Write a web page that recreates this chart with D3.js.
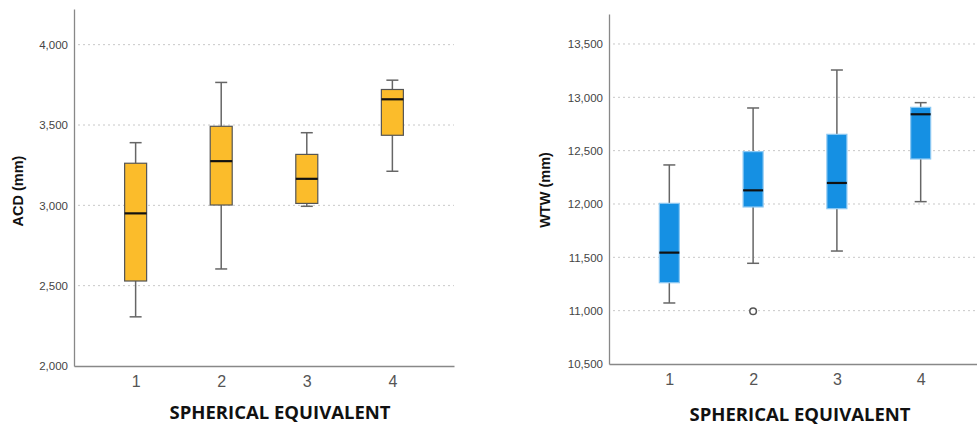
<!DOCTYPE html>
<html>
<head>
<meta charset="utf-8">
<script src="https://cdn.jsdelivr.net/npm/d3@7"></script>
<style>
  body { margin: 0; background: #fff; }
  svg { display: block; }
</style>
</head>
<body>
<div id="chart"></div>
<script>
// categories of spherical equivalent
const categories = ['1', '2', '3', '4'];

// ACD (mm) box stats per category
const acdLow    = [2306, 2604, 2994, 3212];
const acdQ1     = [2529, 3002, 3012, 3436];
const acdMedian = [2950, 3275, 3165, 3660];
const acdQ3     = [3262, 3492, 3317, 3721];
const acdHigh   = [3390, 3765, 3452, 3779];
const acdOutliers = [];
const acdTicks = [2000, 2500, 3000, 3500, 4000];

// WTW (mm) box stats per category
const wtwLow    = [11072, 11444, 11559, 12022];
const wtwQ1     = [11262, 11972, 11956, 12422];
const wtwMedian = [11544, 12128, 12197, 12841];
const wtwQ3     = [12006, 12491, 12653, 12906];
const wtwHigh   = [12366, 12900, 13256, 12950];
const wtwOutliers = [{cat: '2', value: 10994}];
const wtwTicks = [10500, 11000, 11500, 12000, 12500, 13000, 13500];

const fmt = d3.format(',');

const svg = d3.select('#chart').append('svg')
    .attr('width', 977)
    .attr('height', 425);

function drawPanel(opt) {
  const g = svg.append('g');

  const x = d3.scalePoint()
      .domain(categories)
      .range([opt.left, opt.right])
      .padding(opt.pad);

  const y = d3.scaleLinear()
      .domain(opt.domain)
      .range([opt.bottom, opt.top]);

  // gridlines
  g.selectAll('line.grid')
    .data(opt.ticks.slice(1))
    .join('line')
      .attr('class', 'grid')
      .attr('x1', opt.left + 4)
      .attr('x2', opt.right)
      .attr('y1', d => y(d))
      .attr('y2', d => y(d))
      .attr('stroke', '#c8c8c8')
      .attr('stroke-width', 1)
      .attr('stroke-dasharray', '2,3');

  // y axis
  const yAxis = d3.axisLeft(y).tickValues(opt.ticks).tickFormat(fmt).tickSize(0).tickPadding(6);
  const ya = g.append('g')
      .attr('transform', `translate(${opt.left},0)`)
      .call(yAxis);
  ya.select('.domain').attr('stroke', '#888').attr('stroke-width', 1.3);
  ya.selectAll('text')
      .attr('font-family', 'Liberation Sans, Arial, sans-serif')
      .attr('font-size', 11.5)
      .attr('fill', '#444');

  // x axis
  const xAxis = d3.axisBottom(x).tickSize(0).tickPadding(10);
  const xa = g.append('g')
      .attr('transform', `translate(0,${opt.bottom})`)
      .call(xAxis);
  xa.select('.domain').attr('stroke', '#888').attr('stroke-width', 1.3);
  xa.selectAll('text')
      .attr('font-family', 'Liberation Sans, Arial, sans-serif')
      .attr('font-size', 16)
      .attr('fill', '#555');

  const stats = categories.map((c, i) => ({
    cat: c,
    low: opt.low[i], q1: opt.q1[i], median: opt.median[i], q3: opt.q3[i], high: opt.high[i]
  }));

  const bw = opt.boxWidth;
  const cap = 12;

  const box = g.selectAll('g.box')
    .data(stats)
    .join('g')
      .attr('class', 'box');

  // whiskers
  box.append('line')
      .attr('x1', d => x(d.cat)).attr('x2', d => x(d.cat))
      .attr('y1', d => y(d.high)).attr('y2', d => y(d.q3))
      .attr('stroke', '#666').attr('stroke-width', 1.5);
  box.append('line')
      .attr('x1', d => x(d.cat)).attr('x2', d => x(d.cat))
      .attr('y1', d => y(d.q1)).attr('y2', d => y(d.low))
      .attr('stroke', '#666').attr('stroke-width', 1.5);
  box.append('line')
      .attr('x1', d => x(d.cat) - cap / 2).attr('x2', d => x(d.cat) + cap / 2)
      .attr('y1', d => y(d.high)).attr('y2', d => y(d.high))
      .attr('stroke', '#666').attr('stroke-width', 1.5);
  box.append('line')
      .attr('x1', d => x(d.cat) - cap / 2).attr('x2', d => x(d.cat) + cap / 2)
      .attr('y1', d => y(d.low)).attr('y2', d => y(d.low))
      .attr('stroke', '#666').attr('stroke-width', 1.5);

  // boxes
  box.append('rect')
      .attr('x', d => x(d.cat) - bw / 2)
      .attr('width', bw)
      .attr('y', d => y(d.q3))
      .attr('height', d => y(d.q1) - y(d.q3))
      .attr('fill', opt.fill)
      .attr('stroke', opt.stroke)
      .attr('stroke-width', 1.2);

  // medians
  box.append('line')
      .attr('x1', d => x(d.cat) - bw / 2).attr('x2', d => x(d.cat) + bw / 2)
      .attr('y1', d => y(d.median)).attr('y2', d => y(d.median))
      .attr('stroke', '#111').attr('stroke-width', 2.2);

  // outliers
  g.selectAll('circle.outlier')
    .data(opt.outliers)
    .join('circle')
      .attr('class', 'outlier')
      .attr('cx', d => x(d.cat))
      .attr('cy', d => y(d.value))
      .attr('r', 3.3)
      .attr('fill', '#fff')
      .attr('stroke', '#555')
      .attr('stroke-width', 1.5);

  // titles
  g.append('text')
      .attr('transform', `translate(${opt.yTitleX},${opt.yTitleY}) rotate(-90)`)
      .attr('text-anchor', 'middle')
      .attr('font-family', 'Liberation Sans, Arial, sans-serif')
      .attr('font-weight', 'bold')
      .attr('font-size', 14.5)
      .attr('fill', '#111')
      .text(opt.yTitle);

  g.append('text')
      .attr('x', opt.xTitleX)
      .attr('y', opt.xTitleY)
      .attr('text-anchor', 'middle')
      .attr('font-family', 'Open Sans, Noto Sans, sans-serif')
      .attr('font-weight', 'bold')
      .attr('font-size', 18.5)
      .attr('fill', '#111')
      .text('SPHERICAL EQUIVALENT');
}

drawPanel({
  left: 74, right: 454, top: 9, bottom: 366, pad: 0.72,
  domain: [2000, 4222],
  ticks: acdTicks,
  low: acdLow, q1: acdQ1, median: acdMedian, q3: acdQ3, high: acdHigh,
  outliers: acdOutliers,
  boxWidth: 22,
  fill: '#FBBC2B', stroke: '#555',
  yTitle: 'ACD (mm)', yTitleX: 23, yTitleY: 191,
  xTitleX: 280, xTitleY: 419
});

drawPanel({
  left: 609, right: 981, top: 14, bottom: 364, pad: 0.72,
  domain: [10500, 13781],
  ticks: wtwTicks,
  low: wtwLow, q1: wtwQ1, median: wtwMedian, q3: wtwQ3, high: wtwHigh,
  outliers: wtwOutliers,
  boxWidth: 20,
  fill: '#1590E3', stroke: '#8cc8f2',
  yTitle: 'WTW (mm)', yTitleX: 550, yTitleY: 190,
  xTitleX: 800, xTitleY: 421
});
</script>
</body>
</html>
